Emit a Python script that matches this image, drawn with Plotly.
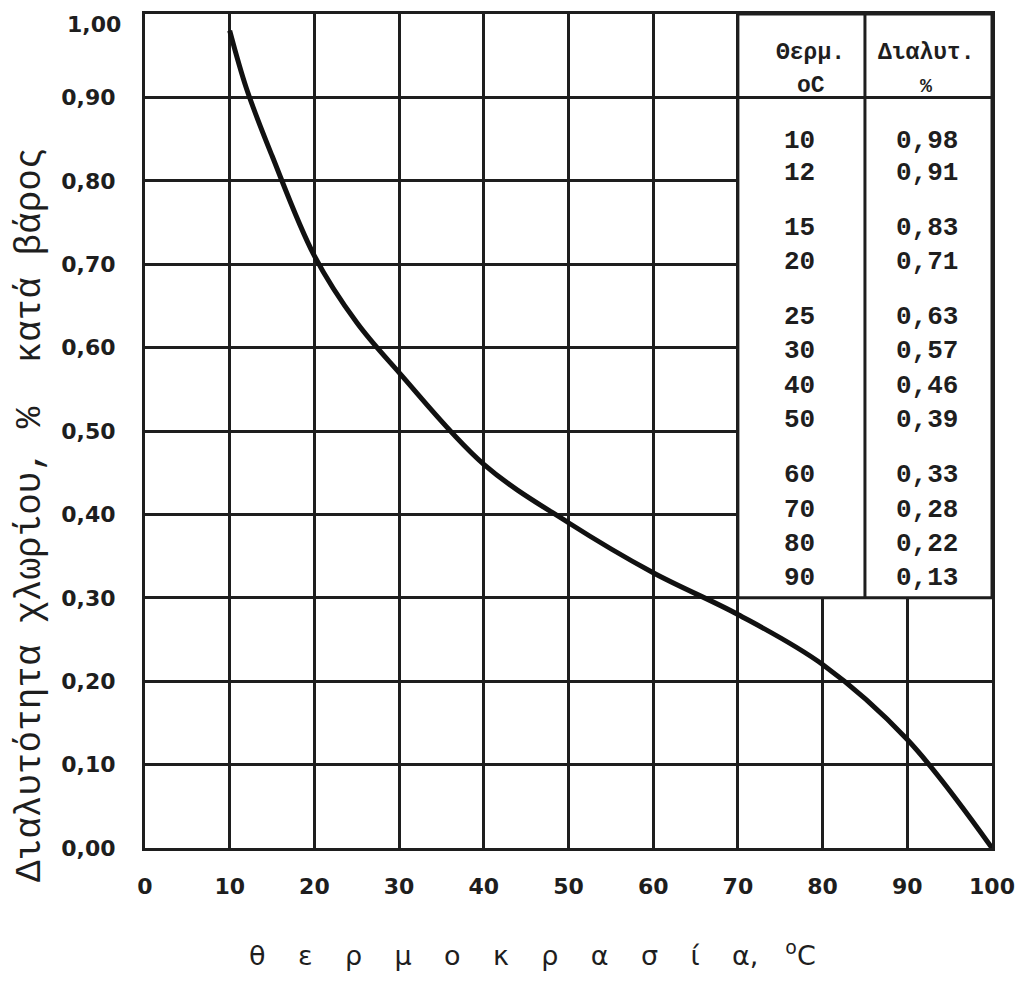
import plotly.graph_objects as go

# Data (from the table in the chart)
temps = [10, 12, 15, 20, 25, 30, 40, 50, 60, 70, 80, 90, 100]
solub = [0.98, 0.91, 0.83, 0.71, 0.63, 0.57, 0.46, 0.39, 0.33, 0.28, 0.22, 0.13, 0.00]

table_temps = ["10", "12", "15", "20", "25", "30", "40", "50", "60", "70", "80", "90"]
table_vals = ["0,98", "0,91", "0,83", "0,71", "0,63", "0,57", "0,46", "0,39", "0,33", "0,28", "0,22", "0,13"]

x_ticks = [0, 10, 20, 30, 40, 50, 60, 70, 80, 90, 100]
x_ticktext = ["0", "10", "20", "30", "40", "50", "60", "70", "80", "90", "100"]
y_ticks = [0.0, 0.1, 0.2, 0.3, 0.4, 0.5, 0.6, 0.7, 0.8, 0.9, 1.0]
y_ticktext = ["0,00", "0,10", "0,20", "0,30", "0,40", "0,50", "0,60", "0,70", "0,80", "0,90", "1,00"]

# Layout geometry (pixels); page body adds ~8px offset
OFF = 8
W, H = 1023, 992
PL, PR, PT, PB = 145, 992, 14, 848          # desired plot edges on the page
ML, MT = PL - OFF, PT - OFF
MR = W - ML - (PR - PL)
MB = H - MT - (PB - PT)
PW, PH = PR - PL, PB - PT


def py2paper(py):
    return (PB - py) / PH


def px2paper(px):
    return (px - PL) / PW


row_px = [141, 173, 228, 262, 317, 351, 386, 420, 475, 510, 544, 578]

ink = "#1e1e1e"
tick_font = dict(family="DejaVu Sans", size=22, color=ink, weight="bold")
mono = "Liberation Mono"
cell_font = dict(family=mono, size=26, color=ink, weight="bold")

fig = go.Figure()
fig.add_trace(go.Scatter(
    x=temps, y=solub, mode="lines",
    line=dict(color="#111111", width=5, shape="spline", smoothing=1.0),
    showlegend=False, hoverinfo="skip",
))

shapes = [
    # table box
    dict(type="rect", xref="x", yref="y", x0=70, x1=100, y0=0.30, y1=1.0,
         fillcolor="white", line=dict(color=ink, width=3), layer="above"),
    dict(type="line", xref="x", yref="y", x0=85, x1=85, y0=0.30, y1=1.0,
         line=dict(color=ink, width=3), layer="above"),
    dict(type="line", xref="x", yref="y", x0=70, x1=100, y0=0.90, y1=0.90,
         line=dict(color=ink, width=3), layer="above"),
]

annotations = []
for t, v, py in zip(table_temps, table_vals, row_px):
    yy = py2paper(py)
    annotations.append(dict(x=77.3, y=yy, xref="x", yref="paper", text=t, showarrow=False,
                            font=cell_font, xanchor="center", yanchor="middle"))
    annotations.append(dict(x=92.3, y=yy, xref="x", yref="paper", text=v, showarrow=False,
                            font=cell_font, xanchor="center", yanchor="middle"))

hdr_font = dict(family=mono, size=23, color=ink, weight="bold")
annotations += [
    dict(x=78.6, y=py2paper(53), xref="x", yref="paper", text="Θερμ.", showarrow=False,
         font=hdr_font, yanchor="middle"),
    dict(x=78.6, y=py2paper(86), xref="x", yref="paper", text="oC", showarrow=False,
         font=hdr_font, yanchor="middle"),
    dict(x=92.3, y=py2paper(53), xref="x", yref="paper", text="Διαλυτ.", showarrow=False,
         font=hdr_font, yanchor="middle"),
    dict(x=92.3, y=py2paper(86), xref="x", yref="paper", text="%", showarrow=False,
         font=dict(family=mono, size=20, color=ink, weight="bold"), yanchor="middle"),
]

# top y tick label sits a little below its grid line in the original
annotations.append(dict(
    x=0, y=y_ticks[-1], xref="paper", yref="y", text=y_ticktext[-1], showarrow=False,
    xanchor="right", yanchor="middle", xshift=-22, yshift=-10, font=tick_font,
))

# y-axis title (typewriter, rotated)
annotations.append(dict(
    x=px2paper(30), y=py2paper(515), xref="paper", yref="paper",
    text="Διαλυτότητα χλωρίου, %\u00a0\u00a0κατά βάρος", textangle=-90, showarrow=False,
    font=dict(family=mono, size=36, color=ink), xanchor="center", yanchor="middle",
))

# x-axis title (spaced letters)
sep = "\u2002\u2002\u2009"
letters = ["θ", "ε", "ρ", "μ", "ο", "κ", "ρ", "α", "σ", "ί", "α,"]
xtitle = sep.join(letters) + "\u2002\u2002<sup>o</sup>C"
annotations.append(dict(
    x=px2paper(532), y=py2paper(953), xref="paper", yref="paper",
    text=xtitle, showarrow=False,
    font=dict(family="DejaVu Sans", size=27, color=ink), xanchor="center", yanchor="middle",
))

y_ticktext_axis = y_ticktext[:-1] + [""]

fig.update_layout(
    width=W, height=H,
    margin=dict(l=ML, r=MR, t=MT, b=MB, autoexpand=False),
    paper_bgcolor="white", plot_bgcolor="white",
    shapes=shapes, annotations=annotations,
    xaxis=dict(range=[0, 100], tickvals=x_ticks, ticktext=x_ticktext,
               showgrid=True, gridcolor=ink, gridwidth=2.5, automargin=False,
               showline=True, linecolor=ink, linewidth=3, mirror=True,
               ticks="", ticklabelstandoff=17, tickfont=tick_font, zeroline=False),
    yaxis=dict(range=[0, 1.0], tickvals=y_ticks, ticktext=y_ticktext_axis,
               showgrid=True, gridcolor=ink, gridwidth=2.5, automargin=False,
               showline=True, linecolor=ink, linewidth=3, mirror=True,
               ticks="", ticklabelstandoff=22, tickfont=tick_font, zeroline=False),
)

fig.write_html("out.html")
